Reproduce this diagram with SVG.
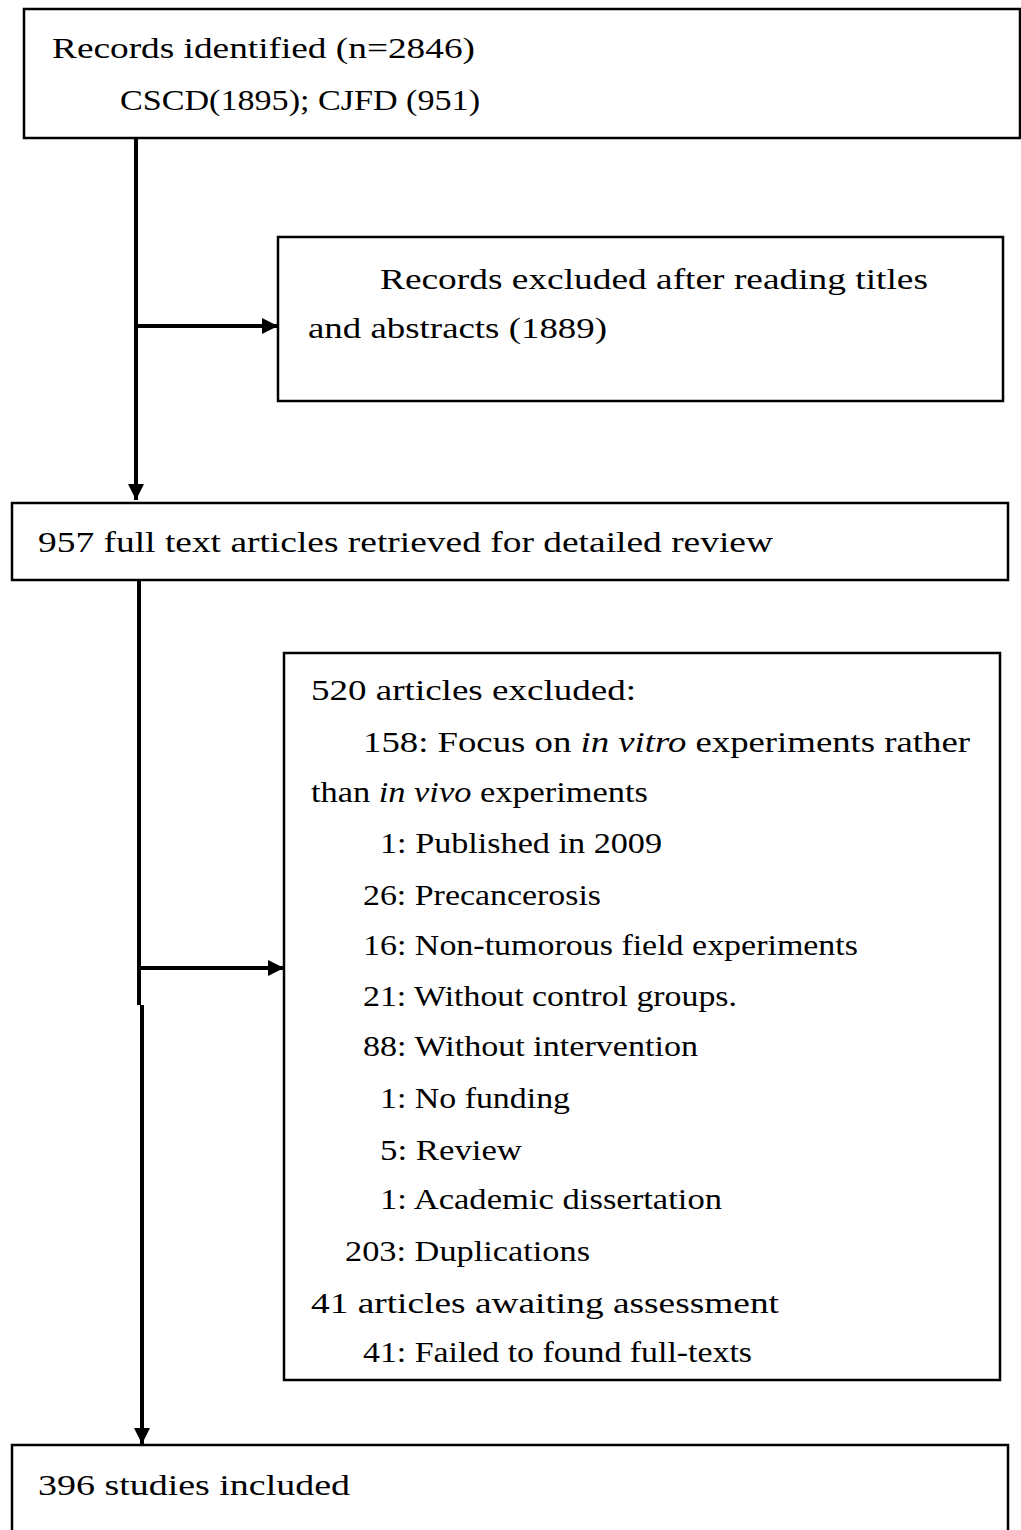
<svg xmlns="http://www.w3.org/2000/svg" width="1021" height="1530" viewBox="0 0 1021 1530">
<defs>
<marker id="ah" viewBox="0 0 10 10" refX="10" refY="5" markerWidth="4.5" markerHeight="4" markerUnits="strokeWidth" orient="auto">
<path d="M0,0 L10,5 L0,10 z" fill="#000"/>
</marker>
<style>
.box{fill:#fff;stroke:#000;stroke-width:2.5}
.t{font-family:"Liberation Serif","Times New Roman",serif;font-size:29px;fill:#000}
.con{stroke:#000;stroke-width:4;fill:none}
</style>
</defs>
<rect width="1021" height="1530" fill="#fff"/>
<g id="connectors">
<line class="con" x1="136" y1="138" x2="136" y2="500" marker-end="url(#ah)"/>
<line class="con" x1="136" y1="326" x2="278" y2="326" marker-end="url(#ah)"/>
<line class="con" x1="139" y1="580" x2="139" y2="1005"/>
<line class="con" x1="142" y1="1005" x2="142" y2="1444" marker-end="url(#ah)"/>
<line class="con" x1="139" y1="968" x2="284" y2="968" marker-end="url(#ah)"/>
</g>
<g id="n1">
<rect class="box" x="24" y="9" width="996" height="129"/>
<text class="t" x="52" y="58" textLength="423" lengthAdjust="spacingAndGlyphs">Records identified (n=2846)</text>
<text class="t" x="120" y="110" textLength="360" lengthAdjust="spacingAndGlyphs">CSCD(1895); CJFD (951)</text>
</g>
<g id="n2">
<rect class="box" x="278" y="237" width="725" height="164"/>
<text class="t" x="380" y="289" textLength="548" lengthAdjust="spacingAndGlyphs">Records excluded after reading titles</text>
<text class="t" x="308" y="338" textLength="299" lengthAdjust="spacingAndGlyphs">and abstracts (1889)</text>
</g>
<g id="n3">
<rect class="box" x="12" y="503" width="996" height="77"/>
<text class="t" x="38" y="552" textLength="735" lengthAdjust="spacingAndGlyphs">957 full text articles retrieved for detailed review</text>
</g>
<g id="n4">
<rect class="box" x="284" y="653" width="716" height="727"/>
<text class="t" x="311" y="700" textLength="325" lengthAdjust="spacingAndGlyphs">520 articles excluded:</text>
<text class="t" x="363" y="752" textLength="607" lengthAdjust="spacingAndGlyphs">158: Focus on <tspan font-style="italic">in vitro</tspan> experiments rather</text>
<text class="t" x="311" y="802" textLength="337" lengthAdjust="spacingAndGlyphs">than <tspan font-style="italic">in vivo</tspan> experiments</text>
<text class="t" x="380" y="853" textLength="282" lengthAdjust="spacingAndGlyphs">1: Published in 2009</text>
<text class="t" x="363" y="905" textLength="238" lengthAdjust="spacingAndGlyphs">26: Precancerosis</text>
<text class="t" x="363" y="955" textLength="495" lengthAdjust="spacingAndGlyphs">16: Non-tumorous field experiments</text>
<text class="t" x="363" y="1006" textLength="374" lengthAdjust="spacingAndGlyphs">21: Without control groups.</text>
<text class="t" x="363" y="1056" textLength="335" lengthAdjust="spacingAndGlyphs">88: Without intervention</text>
<text class="t" x="380" y="1108" textLength="190" lengthAdjust="spacingAndGlyphs">1: No funding</text>
<text class="t" x="380" y="1160" textLength="142" lengthAdjust="spacingAndGlyphs">5: Review</text>
<text class="t" x="380" y="1209" textLength="342" lengthAdjust="spacingAndGlyphs">1: Academic dissertation</text>
<text class="t" x="345" y="1261" textLength="245" lengthAdjust="spacingAndGlyphs">203: Duplications</text>
<text class="t" x="311" y="1313" textLength="468" lengthAdjust="spacingAndGlyphs">41 articles awaiting assessment</text>
<text class="t" x="363" y="1362" textLength="389" lengthAdjust="spacingAndGlyphs">41: Failed to found full-texts</text>
</g>
<g id="n5">
<rect class="box" x="12" y="1445" width="996" height="100"/>
<text class="t" x="38" y="1495" textLength="312" lengthAdjust="spacingAndGlyphs">396 studies included</text>
</g>
</svg>
